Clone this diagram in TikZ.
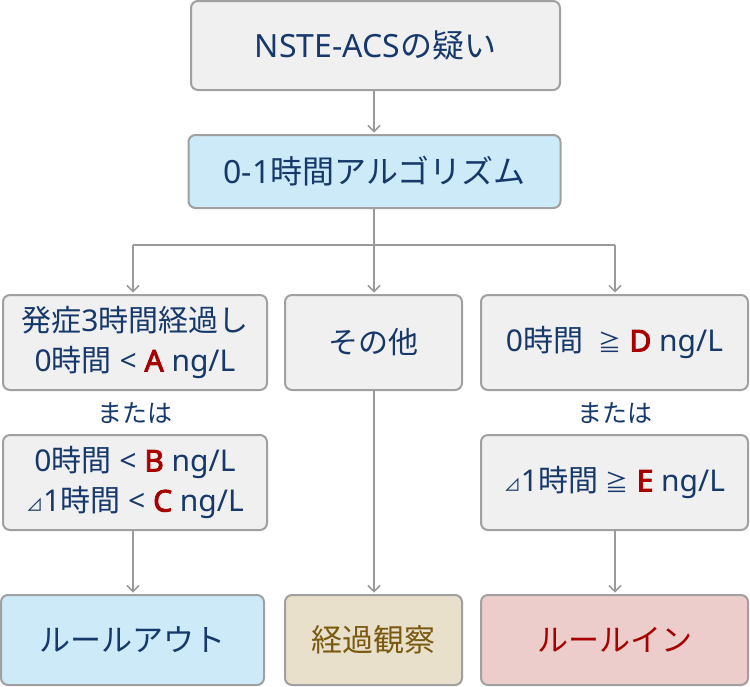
\documentclass[tikz,border=0pt]{standalone}
\usepackage{fontspec}
\setmainfont{Noto Sans}
\newfontfamily\jp{Noto Sans CJK JP}
\newfontfamily\markfont{Noto Sans}[FakeBold=3]
\usetikzlibrary{arrows.meta}
\definecolor{NavyText}{HTML}{16386B}
\definecolor{RedMark}{HTML}{A80000}
\definecolor{BoxBorder}{HTML}{A0A0A0}
\definecolor{LineGray}{HTML}{9A9A9A}
\definecolor{BoxGray}{HTML}{F0F0F0}
\definecolor{BoxBlue}{HTML}{CCEAF7}
\definecolor{BoxSand}{HTML}{E8E0CB}
\definecolor{BoxRose}{HTML}{EDCCCC}
\definecolor{SandText}{HTML}{7A5A10}
\newcommand{\cut}[1]{{\color{RedMark}\markfont #1}}
\newcommand{\tri}{{\jp\fontsize{17}{17}\selectfont ⊿}}
\newcommand{\geqq}{{\jp\fontsize{23}{23}\selectfont ≧}}

\begin{document}
\begin{tikzpicture}[x=1pt, y=-1pt,
    flowbox/.style={draw=BoxBorder, line width=2pt, rounded corners=7pt,
        fill=BoxGray, text=NavyText, align=center, inner sep=0pt,
        font=\fontsize{30}{40}\selectfont},
    headbox/.style={flowbox, font=\fontsize{32}{40}\selectfont},
    endbox/.style={flowbox, font=\fontsize{31}{40}\selectfont\jp},
    ortext/.style={text=NavyText, font=\fontsize{25}{30}\selectfont\jp},
    flowline/.style={draw=LineGray, line width=1.5pt},
    flowarrow/.style={flowline, shorten >=1.5pt,
        -{Straight Barb[length=6pt, width=12pt]}}]

\useasboundingbox (0,0) rectangle (750,686);

% top of the chart
\node[headbox, minimum width=369, minimum height=89] (suspect) at (375.5,45.5)
    {NSTE-ACS{\jp の疑い}};
\node[headbox, fill=BoxBlue, minimum width=372, minimum height=73] (algo) at (374.5,171.5)
    {0-1{\jp 時間アルゴリズム}};

% three branches
\node[flowbox, minimum width=264, minimum height=95] (outA) at (135,342.5)
    {{\jp 発症}3{\jp 時間経過し}\\0{\jp 時間} < \cut{A} ng/L};
\node[ortext] (orL) at (135,413) {または};
\node[flowbox, minimum width=264, minimum height=95] (outB) at (135,482.5)
    {0{\jp 時間} < \cut{B} ng/L\\\tri1{\jp 時間} < \cut{C} ng/L};
\node[flowbox, minimum width=177, minimum height=95] (other) at (373.5,342.5)
    {\jp その他};
\node[flowbox, minimum width=267, minimum height=95] (inD) at (614.5,342.5)
    {0{\jp 時間}\ \ \geqq\ \cut{D} ng/L};
\node[ortext] (orR) at (614.5,413) {または};
\node[flowbox, minimum width=267, minimum height=95] (inE) at (614.5,482.5)
    {\tri1{\jp 時間} \geqq\ \cut{E} ng/L};

% results
\node[endbox, fill=BoxBlue, minimum width=263, minimum height=90] (ruleout) at (132.5,640)
    {ルールアウト};
\node[endbox, fill=BoxSand, text=SandText, minimum width=177, minimum height=90] (observe) at (373.5,640)
    {経過観察};
\node[endbox, fill=BoxRose, text=RedMark, minimum width=267, minimum height=90] (rulein) at (614.5,640)
    {ルールイン};

\coordinate (split) at (374,245);
\coordinate (splitL) at (133,245);
\coordinate (splitR) at (615,245);

\draw[flowarrow] (suspect.south -| split) -- (algo.north -| split);
\draw[flowline] (algo.south -| split) -- (split);
\draw[flowline] (splitL) -- (splitR);
\draw[flowarrow] (splitL) -- (outA.north -| splitL);
\draw[flowarrow] (split) -- (other.north -| split);
\draw[flowarrow] (splitR) -- (inD.north -| splitR);

\draw[flowarrow] (outB.south -| splitL) -- (ruleout.north -| splitL);
\draw[flowarrow] (other.south -| split) -- (observe.north -| split);
\draw[flowarrow] (inE.south -| splitR) -- (rulein.north -| splitR);

\end{tikzpicture}
\end{document}
